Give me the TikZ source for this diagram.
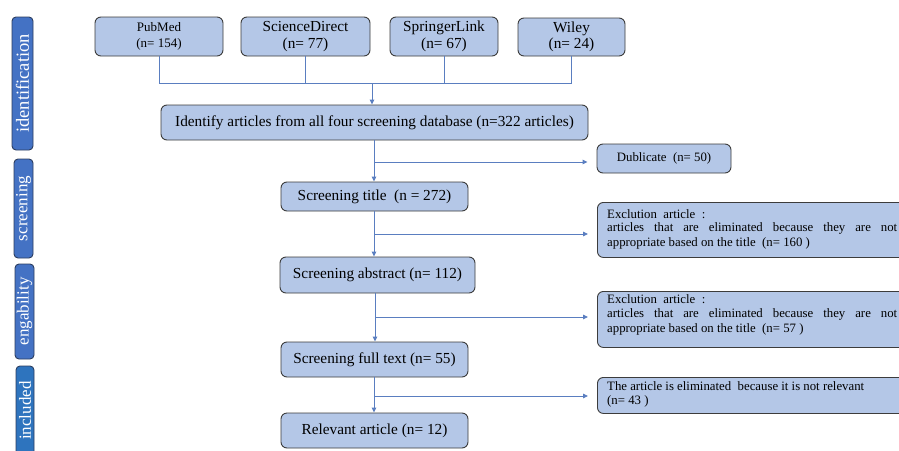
\documentclass[tikz,border=0pt]{standalone}
\usepackage{fontspec}
\setmainfont{Liberation Serif}
\usetikzlibrary{arrows.meta}
\definecolor{lightfill}{HTML}{B4C7E7}
\definecolor{boxline}{HTML}{3C3C3C}
\definecolor{darkfill}{HTML}{4472C4}
\definecolor{darkline}{HTML}{2C3E60}
\definecolor{inclfill}{HTML}{2E74BE}
\definecolor{conn}{HTML}{5A7EC0}
\tikzset{
  lbox/.style={draw=boxline, fill=lightfill, line width=0.9pt, rounded corners=6pt, inner sep=0pt, align=center},
  stagebox/.style={draw=darkline, fill=darkfill, line width=0.9pt, rounded corners=4pt, inner sep=0pt, rotate=90, text=white},
  conline/.style={draw=conn, line width=0.9pt},
  conarrow/.style={conline, -{Triangle[length=5pt,width=4.5pt]}},
  exttext/.style={inner sep=0pt, anchor=west},
  fbig/.style={font=\fontsize{15.3}{16.5}\selectfont},
  fsmall/.style={font=\fontsize{12.8}{14}\selectfont},
  fstage/.style={font=\fontsize{17}{18}\selectfont}
}
\begin{document}
\begin{tikzpicture}[x=1pt,y=-1pt]
\useasboundingbox (0,0) rectangle (899,450);
\fill[white] (0,0) rectangle (899,450);

% stage labels
\node[stagebox, minimum width=133pt, minimum height=21pt, font=\fontsize{18.5}{19}\selectfont] (sid) at (22.5,83.5) {identification};
\node[stagebox, fstage, minimum width=99pt, minimum height=19pt] (ssc) at (23.5,208.5) {screening};
\node[stagebox, fstage, minimum width=95pt, minimum height=19pt] (sen) at (24.5,311.5) {engability};
\node[stagebox, fstage, fill=inclfill, minimum width=89pt, minimum height=18pt] (sin) at (25,410.5) {included};

% databases
\node[lbox, minimum width=128pt, minimum height=39pt, font=\fontsize{13}{16.5}\selectfont] (pub) at (159,36.5) {PubMed\\(n= 154)};
\node[lbox, fbig, minimum width=129pt, minimum height=39pt] (sci) at (305.5,36.5) {ScienceDirect\\(n= 77)};
\node[lbox, fbig, minimum width=108pt, minimum height=39pt] (spr) at (444,36.5) {SpringerLink\\(n= 67)};
\node[lbox, fbig, minimum width=107pt, minimum height=38pt] (wil) at (571.5,37) {Wiley\\(n= 24)};

% main flow
\node[lbox, fbig, minimum width=427pt, minimum height=35pt] (idn) at (374.5,122.5) {Identify articles from all four screening database (n=322 articles)};
\node[lbox, fbig, minimum width=187pt, minimum height=29pt] (tit) at (374.5,196.5) {Screening title~ (n = 272)};
\node[lbox, fbig, minimum width=195pt, minimum height=36pt] (abs) at (377.5,275) {Screening abstract (n= 112)};
\node[lbox, fbig, minimum width=187pt, minimum height=35pt] (ful) at (374.5,359.5) {Screening full text (n= 55)};
\node[lbox, fbig, minimum width=187pt, minimum height=35pt] (rel) at (374.5,430.5) {Relevant article (n= 12)};

% exclusion boxes
\node[lbox, fsmall, minimum width=134pt, minimum height=29pt] (dub) at (664,158.5) {Dublicate~ (n= 50)};
\node[lbox, minimum width=310pt, minimum height=55pt, anchor=north west] (ex1) at (597,202) {};
\node[lbox, minimum width=310pt, minimum height=56pt, anchor=north west] (ex2) at (597,291) {};
\node[lbox, minimum width=310pt, minimum height=36pt, anchor=north west] (ex3) at (597,377) {};

\node[exttext, fsmall] (e1a) at (607,214) {Exclution~ article~ :};
\node[exttext, fsmall] (e1b) at (607,228.5) {\makebox[290pt][s]{articles that are eliminated because they are not}};
\node[exttext, fsmall] (e1c) at (607,243) {appropriate based on the title~ (n= 160 )};

\node[exttext, fsmall] (e2a) at (607,299) {Exclution~ article~ :};
\node[exttext, fsmall] (e2b) at (607,314) {\makebox[290pt][s]{articles that are eliminated because they are not}};
\node[exttext, fsmall] (e2c) at (607,329) {appropriate based on the title~ (n= 57 )};

\node[exttext, fsmall] (e3a) at (607,386) {The article is eliminated~ because it is not relevant};
\node[exttext, fsmall] (e3b) at (607,401) {(n= 43 )};

% connectors from databases
\coordinate (mrg) at (372,83);
\draw[conline] (pub.south) |- (mrg);
\draw[conline] (wil.south) |- (mrg);
\draw[conline] (sci.south) -- (sci.south |- mrg);
\draw[conline] (spr.south) -- (spr.south |- mrg);
\draw[conarrow] (mrg) -- (mrg |- idn.north);

% trunk
\coordinate (t1) at (374,140);
\coordinate (t2) at (374,211);
\coordinate (t3) at (375,293);
\coordinate (t4) at (374,377);
\draw[conarrow] (t1) -- (t1 |- tit.north);
\draw[conarrow] (t2) -- (t2 |- abs.north);
\draw[conarrow] (t3) -- (t3 |- ful.north);
\draw[conarrow] (t4) -- (t4 |- rel.north);

% branches
\coordinate (b1) at (374,162);
\coordinate (b2) at (374,234);
\coordinate (b3) at (375,317);
\coordinate (b4) at (374,396);
\draw[conarrow] (b1) -- ([xshift=-9pt]dub.west |- b1);
\draw[conarrow] (b2) -- ([xshift=-9pt]ex1.west |- b2);
\draw[conarrow] (b3) -- ([xshift=-9pt]ex2.west |- b3);
\draw[conarrow] (b4) -- ([xshift=-9pt]ex3.west |- b4);
\end{tikzpicture}
\end{document}
